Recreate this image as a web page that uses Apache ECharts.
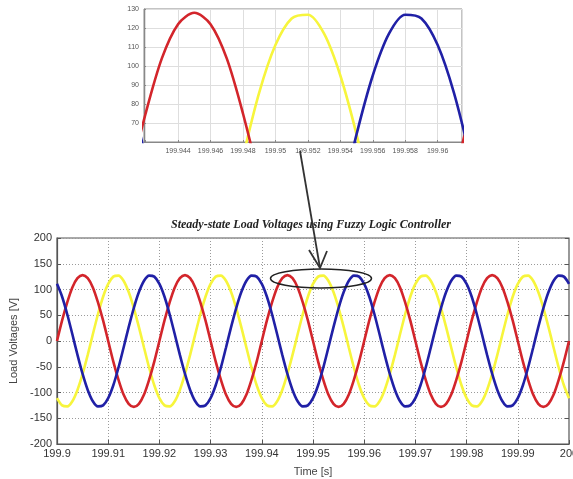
<!DOCTYPE html>
<html>
<head>
<meta charset="utf-8">
<script src="https://cdn.jsdelivr.net/npm/echarts@6/dist/echarts.min.js"></script>
<style>
  html, body { margin: 0; padding: 0; background: #ffffff; }
  #chart { width: 573px; height: 479px; }
</style>
</head>
<body>
<div id="chart"></div>
<script>
// Sampling grid of the recorded load voltages (seconds)
const timeStart = 199.9;
const timeStep = 0.001;

// Phase voltages [V], one sample per millisecond from 199.900 s to 200.000 s
const phaseRed = [
  0, 40, 75, 104, 122, 128, 122, 104, 75, 40, 0, -40, -75, -104, -122, -128, -122, -104, -75, -40,
  0, 40, 75, 104, 122, 128, 122, 104, 75, 40, 0, -40, -75, -104, -122, -128, -122, -104, -75, -40,
  0, 40, 75, 104, 122, 128, 122, 104, 75, 40, 0, -40, -75, -104, -122, -128, -122, -104, -75, -40,
  0, 40, 75, 104, 122, 128, 122, 104, 75, 40, 0, -40, -75, -104, -122, -128, -122, -104, -75, -40,
  0, 40, 75, 104, 122, 128, 122, 104, 75, 40, 0, -40, -75, -104, -122, -128, -122, -104, -75, -40,
  0
];
const phaseYellow = [
  -111, -125, -127, -117, -95, -64, -27, 13, 52, 86, 111, 125, 127, 117, 95, 64, 27, -13, -52, -86,
  -111, -125, -127, -117, -95, -64, -27, 13, 52, 86, 111, 125, 127, 117, 95, 64, 27, -13, -52, -86,
  -111, -125, -127, -117, -95, -64, -27, 13, 52, 86, 111, 125, 127, 117, 95, 64, 27, -13, -52, -86,
  -111, -125, -127, -117, -95, -64, -27, 13, 52, 86, 111, 125, 127, 117, 95, 64, 27, -13, -52, -86,
  -111, -125, -127, -117, -95, -64, -27, 13, 52, 86, 111, 125, 127, 117, 95, 64, 27, -13, -52, -86,
  -111
];
const phaseBlue = [
  111, 86, 52, 13, -27, -64, -95, -117, -127, -125, -111, -86, -52, -13, 27, 64, 95, 117, 127, 125,
  111, 86, 52, 13, -27, -64, -95, -117, -127, -125, -111, -86, -52, -13, 27, 64, 95, 117, 127, 125,
  111, 86, 52, 13, -27, -64, -95, -117, -127, -125, -111, -86, -52, -13, 27, 64, 95, 117, 127, 125,
  111, 86, 52, 13, -27, -64, -95, -117, -127, -125, -111, -86, -52, -13, 27, 64, 95, 117, 127, 125,
  111, 86, 52, 13, -27, -64, -95, -117, -127, -125, -111, -86, -52, -13, 27, 64, 95, 117, 127, 125,
  111
];

// Axis ranges
const mainTimeRange = [199.9, 200];
const mainVoltRange = [-200, 200];
const zoomTimeRange = [199.9419, 199.9615];
const zoomVoltRange = [60, 130];
// First and last labelled instants of the detail view
const zoomTimeLabelRange = [199.944, 199.96];

const chartTitle = 'Steady-state Load Voltages using Fuzzy Logic Controller';
const xName = 'Time [s]';
const yName = 'Load Voltages [V]';

const colors = { red: '#d3252b', yellow: '#f7f53c', blue: '#2020a6' };

function toPairs(values) {
  return values.map((v, i) => [timeStart + i * timeStep, v]);
}

// Detail-view time labels only between the first and last whole 2 ms steps
function zoomTimeLabel(value) {
  if (value < zoomTimeLabelRange[0] - 1e-6 || value > zoomTimeLabelRange[1] + 1e-6) return '';
  return String(Math.round(value * 1000) / 1000);
}
function zoomVoltLabel(value) {
  return value <= zoomVoltRange[0] ? '' : String(value);
}

const chart = echarts.init(document.getElementById('chart'), null, { renderer: 'canvas' });

const mainLabel = { color: '#333', fontFamily: 'Liberation Sans, Arial, sans-serif', fontSize: 11 };
const zoomLabel = { color: '#555', fontFamily: 'Liberation Sans, Arial, sans-serif', fontSize: 7 };

function lineSeries(name, values, color, xi, yi, width) {
  return {
    name, type: 'line', xAxisIndex: xi, yAxisIndex: yi,
    data: toPairs(values), showSymbol: false, smooth: 0.3,
    clip: true, animation: false,
    lineStyle: { color, width }, z: 3
  };
}

const option = {
  backgroundColor: '#ffffff',
  animation: false,
  grid: [
    { left: 57, right: 4, top: 238, bottom: 35, show: true, borderColor: '#555', borderWidth: 1.2, outerBoundsMode: 'none', containLabel: false },
    { left: 144, right: 111, top: 9, bottom: 337, show: true, borderColor: '#888', borderWidth: 1, outerBoundsMode: 'none', containLabel: false }
  ],
  xAxis: [
    {
      type: 'value', gridIndex: 0, min: mainTimeRange[0], max: mainTimeRange[1], splitNumber: 10,
      name: xName, nameLocation: 'middle', nameGap: 22,
      nameTextStyle: { color: '#444', fontFamily: 'Liberation Sans, Arial, sans-serif', fontSize: 11 },
      axisLine: { show: true, onZero: false, lineStyle: { color: '#555', width: 1.2 } },
      axisTick: { show: true, inside: true, length: 4, lineStyle: { color: '#555' } },
      axisLabel: Object.assign({ margin: 4, hideOverlap: false }, mainLabel),
      splitLine: { show: true, lineStyle: { color: '#9a9a9a', type: [1, 2], width: 1 } }
    },
    {
      type: 'value', gridIndex: 0, position: 'top', min: mainTimeRange[0], max: mainTimeRange[1], splitNumber: 10,
      axisLine: { show: false }, axisLabel: { show: false }, splitLine: { show: false },
      axisTick: { show: true, inside: true, length: 4, lineStyle: { color: '#555' } }
    },
    {
      type: 'value', gridIndex: 1, min: zoomTimeRange[0], max: zoomTimeRange[1], splitNumber: 10,
      axisLine: { show: true, onZero: false, lineStyle: { color: '#888' } },
      axisTick: { show: true, inside: true, length: 2, lineStyle: { color: '#888' } },
      axisLabel: Object.assign({ margin: 6, formatter: zoomTimeLabel }, zoomLabel),
      splitLine: { show: true, lineStyle: { color: '#dedede', width: 1 } }
    }
  ],
  yAxis: [
    {
      type: 'value', gridIndex: 0, min: mainVoltRange[0], max: mainVoltRange[1], interval: 50,
      name: yName, nameLocation: 'middle', nameGap: 36, nameRotate: 90,
      nameTextStyle: { color: '#444', fontFamily: 'Liberation Sans, Arial, sans-serif', fontSize: 11 },
      axisLine: { show: true, onZero: false, lineStyle: { color: '#555', width: 1.2 } },
      axisTick: { show: true, inside: true, length: 4, lineStyle: { color: '#555' } },
      axisLabel: Object.assign({ margin: 5 }, mainLabel),
      splitLine: { show: true, lineStyle: { color: '#9a9a9a', type: [1, 2], width: 1 } }
    },
    {
      type: 'value', gridIndex: 0, position: 'right', min: mainVoltRange[0], max: mainVoltRange[1], interval: 50,
      axisLine: { show: false }, axisLabel: { show: false }, splitLine: { show: false },
      axisTick: { show: true, inside: true, length: 4, lineStyle: { color: '#555' } }
    },
    {
      type: 'value', gridIndex: 1, min: zoomVoltRange[0], max: zoomVoltRange[1], interval: 10,
      axisLine: { show: true, onZero: false, lineStyle: { color: '#888' } },
      axisTick: { show: true, inside: true, length: 2, lineStyle: { color: '#888' } },
      axisLabel: Object.assign({ margin: 5, formatter: zoomVoltLabel }, zoomLabel),
      splitLine: { show: true, lineStyle: { color: '#dedede', width: 1 } }
    }
  ],
  series: [
    lineSeries('Phase C', phaseYellow, colors.yellow, 0, 0, 2.6),
    lineSeries('Phase A', phaseRed, colors.red, 0, 0, 2.6),
    lineSeries('Phase B', phaseBlue, colors.blue, 0, 0, 2.6),
    lineSeries('Phase C zoom', phaseYellow, colors.yellow, 2, 2, 2.6),
    lineSeries('Phase A zoom', phaseRed, colors.red, 2, 2, 2.6),
    lineSeries('Phase B zoom', phaseBlue, colors.blue, 2, 2, 2.6)
  ],
  graphic: [
    {
      type: 'text', x: 311, y: 225, z: 10,
      style: {
        text: chartTitle, fill: '#222', textAlign: 'center', textVerticalAlign: 'middle',
        font: 'italic bold 12px "Liberation Serif", "Times New Roman", serif'
      }
    },
    {
      type: 'ellipse', z: 20,
      shape: { cx: 321, cy: 278.5, rx: 50.5, ry: 9.5 },
      style: { fill: 'none', stroke: '#222', lineWidth: 1.5 }
    },
    {
      type: 'line', z: 20,
      shape: { x1: 300, y1: 151, x2: 320, y2: 268 },
      style: { stroke: '#333', lineWidth: 1.8 }
    },
    {
      type: 'polyline', z: 20,
      shape: { points: [[309, 250], [320, 268], [327, 251]] },
      style: { stroke: '#333', lineWidth: 1.8, fill: 'none' }
    }
  ]
};

chart.setOption(option);
</script>
</body>
</html>
